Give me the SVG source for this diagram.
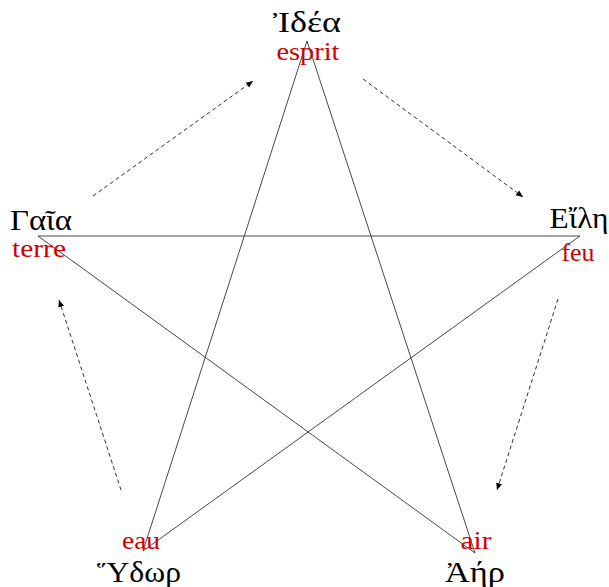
<svg xmlns="http://www.w3.org/2000/svg" width="609" height="587" viewBox="0 0 609 587">
<style>
.g{font-family:"Liberation Serif","DejaVu Serif",serif;font-size:30px;fill:#000;text-anchor:middle}
.r{font-family:"Liberation Serif","DejaVu Serif",serif;font-size:26px;fill:#d00000;text-anchor:middle}
.s{stroke:#333;stroke-width:0.9;fill:none}
.d{stroke:#333;stroke-width:1;fill:none;stroke-dasharray:4,3}
</style>
<defs>
<marker id="ah" markerWidth="8" markerHeight="8" refX="7" refY="4" orient="auto" markerUnits="userSpaceOnUse">
<path d="M0,1 L7,4 L0,7 Z" fill="#000"/>
</marker>
</defs>
<rect width="609" height="587" fill="#fff"/>
<g id="connectors">
<line class="s" x1="307" y1="41" x2="143" y2="551"/>
<line class="s" x1="307" y1="41" x2="475" y2="553"/>
<line class="s" x1="38" y1="236" x2="580" y2="236"/>
<line class="s" x1="38" y1="236" x2="475" y2="553"/>
<line class="s" x1="580" y1="236" x2="143" y2="551"/>
<line class="d" x1="93" y1="196" x2="253" y2="81" marker-end="url(#ah)"/>
<line class="d" x1="363" y1="79" x2="523" y2="197" marker-end="url(#ah)"/>
<line class="d" x1="558" y1="299" x2="497" y2="490" marker-end="url(#ah)"/>
<line class="d" x1="121" y1="490" x2="59" y2="300" marker-end="url(#ah)"/>
</g>
<g id="idea">
<text class="g" x="307" y="32" textLength="68" lengthAdjust="spacingAndGlyphs">Ἰδέα</text>
<text class="r" x="308" y="60" textLength="63" lengthAdjust="spacingAndGlyphs">esprit</text>
</g>
<g id="gaia">
<text class="g" x="41" y="230" textLength="62" lengthAdjust="spacingAndGlyphs">Γαῖα</text>
<text class="r" x="39" y="257" textLength="54" lengthAdjust="spacingAndGlyphs">terre</text>
</g>
<g id="eile">
<text class="g" x="579" y="228" textLength="59" lengthAdjust="spacingAndGlyphs">Εἴλη</text>
<text class="r" x="578" y="261" textLength="33" lengthAdjust="spacingAndGlyphs">feu</text>
</g>
<g id="hydor">
<text class="g" x="139" y="582" textLength="84" lengthAdjust="spacingAndGlyphs">Ὕδωρ</text>
<text class="r" x="141" y="549" textLength="38" lengthAdjust="spacingAndGlyphs">eau</text>
</g>
<g id="aer">
<text class="g" x="475" y="582" textLength="60" lengthAdjust="spacingAndGlyphs">Ἀήρ</text>
<text class="r" x="476" y="549" textLength="31" lengthAdjust="spacingAndGlyphs">air</text>
</g>
</svg>
